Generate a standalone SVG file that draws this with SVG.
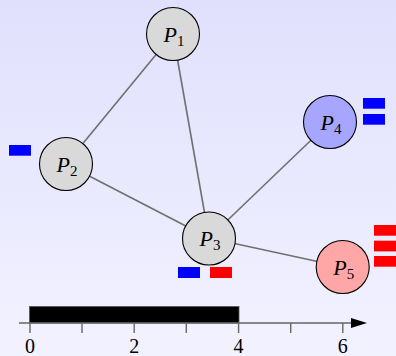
<svg xmlns="http://www.w3.org/2000/svg" width="396" height="356" viewBox="0 0 396 356">
<defs>
<linearGradient id="bg" x1="0" y1="0" x2="0" y2="1">
<stop offset="0" stop-color="#e0e0fd"/>
<stop offset="1" stop-color="#f2f2ff"/>
</linearGradient>
<marker id="arr" markerWidth="16" markerHeight="10" refX="0" refY="5" orient="auto" markerUnits="userSpaceOnUse">
<path d="M0,0 L16,5 L0,10 Z" fill="#000"/>
</marker>
<style>
.edge{stroke:#707070;stroke-width:1.6;fill:none}
.node{stroke:#000;stroke-width:1.1}
.gray{fill:#d9d9d9}
.blue{fill:#a6a6ff}
.red{fill:#ffa6a6}
.lbl{font-family:"Liberation Serif",serif;font-style:italic;font-size:22px;text-anchor:middle;fill:#000}
.sub{font-style:normal;font-size:15px}
.num{font-family:"Liberation Serif",serif;font-size:20px;text-anchor:middle;fill:#000}
.tick{stroke:#666;stroke-width:1.4}
.mb{fill:#0000ff}
.mr{fill:#ff0000}
</style>
</defs>
<rect x="0" y="0" width="396" height="356" fill="url(#bg)"/>
<g id="connectors">
<line class="edge" x1="173" y1="34" x2="66" y2="164"/>
<line class="edge" x1="173" y1="34" x2="209" y2="238"/>
<line class="edge" x1="66" y1="164" x2="209" y2="238"/>
<line class="edge" x1="209" y1="238" x2="330" y2="122"/>
<line class="edge" x1="209" y1="238" x2="343" y2="267"/>
</g>
<g id="P1">
<circle class="node gray" cx="173" cy="34" r="26.5"/>
<text class="lbl" x="174" y="42">P<tspan class="sub" dy="4">1</tspan></text>
</g>
<g id="P2">
<circle class="node gray" cx="66" cy="164" r="26.5"/>
<text class="lbl" x="67" y="172">P<tspan class="sub" dy="4">2</tspan></text>
<rect class="mb" x="9" y="145" width="22" height="10.7"/>
</g>
<g id="P3">
<circle class="node gray" cx="209" cy="238.5" r="26.5"/>
<text class="lbl" x="210" y="246">P<tspan class="sub" dy="4">3</tspan></text>
<rect class="mb" x="178" y="267" width="22" height="11"/>
<rect class="mr" x="210" y="267" width="22" height="11"/>
</g>
<g id="P4">
<circle class="node blue" cx="330" cy="122" r="26.5"/>
<text class="lbl" x="331" y="130">P<tspan class="sub" dy="4">4</tspan></text>
<rect class="mb" x="363" y="98" width="22" height="10.7"/>
<rect class="mb" x="363" y="114" width="22" height="10.7"/>
</g>
<g id="P5">
<circle class="node red" cx="342.7" cy="267" r="26.5"/>
<text class="lbl" x="343.7" y="275">P<tspan class="sub" dy="4">5</tspan></text>
<rect class="mr" x="374" y="225" width="22" height="10.7"/>
<rect class="mr" x="374" y="240.7" width="22" height="10.7"/>
<rect class="mr" x="374" y="256" width="22" height="10.7"/>
</g>
<g id="axis">
<rect x="29.5" y="306.5" width="209.5" height="16.5" fill="#000" stroke="#555" stroke-width="0.8"/>
<line x1="19" y1="323" x2="351" y2="323" stroke="#666" stroke-width="1.4" marker-end="url(#arr)"/>
<line class="tick" x1="30" y1="323" x2="30" y2="333"/>
<line class="tick" x1="82" y1="323" x2="82" y2="333"/>
<line class="tick" x1="134.2" y1="323" x2="134.2" y2="333"/>
<line class="tick" x1="186.3" y1="323" x2="186.3" y2="333"/>
<line class="tick" x1="238.6" y1="323" x2="238.6" y2="333"/>
<line class="tick" x1="290.7" y1="323" x2="290.7" y2="333"/>
<line class="tick" x1="342.8" y1="323" x2="342.8" y2="333"/>
<text class="num" x="30" y="353">0</text>
<text class="num" x="134.2" y="353">2</text>
<text class="num" x="238.6" y="353">4</text>
<text class="num" x="342.8" y="353">6</text>
</g>
</svg>
